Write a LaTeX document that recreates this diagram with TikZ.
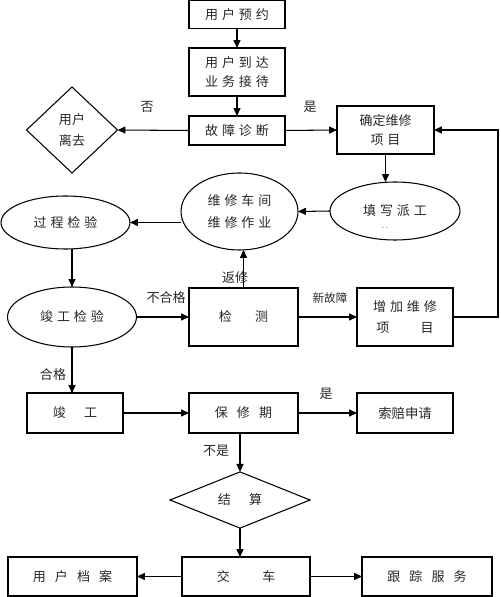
\documentclass[tikz,border=0pt]{standalone}
\usepackage{fontspec}
\newfontfamily\cjk{Noto Sans CJK SC}
\newfontfamily\cjks[LetterSpace=30]{Noto Sans CJK SC}
\newfontfamily\cjkw[LetterSpace=70]{Noto Sans CJK SC}
\usetikzlibrary{shapes.geometric,arrows.meta}

\tikzset{
  base/.style={draw, inner sep=0pt, outer sep=0pt, align=center, text=black!85,
    font=\cjks\fontsize{7.4}{11}\selectfont},
  box/.style={base, rectangle},
  oval/.style={base, ellipse},
  choice/.style={base, diamond},
  flow/.style={-{Triangle[length=4.5pt,width=4pt]}},
  lbl/.style={inner sep=0pt, text=black!85, font=\cjk\fontsize{7.4}{9}\selectfont},
}

\begin{document}
\begin{tikzpicture}[x=0.02cm, y=-0.02cm, line width=0.6pt]
	\useasboundingbox (0,0) rectangle (500,597);
	% upper part
	\node[box, minimum width=1.92cm, minimum height=0.56cm] (yuyue) at (237,14.5) {用户预约};
	\node[box, minimum width=1.92cm, minimum height=0.96cm] (jiedai) at (237,72) {用户到达\\业务接待};
	\node[box, minimum width=1.92cm, minimum height=0.58cm] (zhenduan) at (237,130.5) {故障诊断};
	\node[choice, minimum width=1.82cm, minimum height=1.72cm, font=\cjk\fontsize{7.4}{12}\selectfont] (liqu) at (72,130) {用户\\离去};
	\node[box, minimum width=1.94cm, minimum height=0.96cm, font=\cjk\fontsize{7.4}{10.5}\selectfont] (queding) at (385.5,130) {确定维修\\项\hspace{0.3em}目};
	% repair loop
	\node[oval, minimum width=2.6cm, minimum height=1.16cm] (paigong) at (395,211) {填写派工};
	\node[inner sep=0pt, text=black!70, font=\tiny] (dots) at (385,228) {..};
	\node[oval, minimum width=2.34cm, minimum height=1.54cm, font=\cjks\fontsize{7.4}{12}\selectfont] (zuoye) at (239.5,211.5) {维修车间\\维修作业};
	\node[oval, minimum width=2.58cm, minimum height=1.06cm] (guocheng) at (65.5,222.5) {过程检验};
	\node[oval, minimum width=2.58cm, minimum height=1.2cm] (jungongjy) at (72,317) {竣工检验};
	\node[box, minimum width=2.18cm, minimum height=1.16cm, font=\cjk\fontsize{7.4}{11}\selectfont] (jiance) at (243.5,317) {检\hspace{1.8em}测};
	\node[box, minimum width=1.92cm, minimum height=1.16cm, font=\cjks\fontsize{7.4}{11.5}\selectfont] (zengjia) at (405,317) {增加维修\\项\hspace{2.4em}目};
	% lower part
	\node[box, minimum width=1.92cm, minimum height=0.8cm, font=\cjk\fontsize{7.4}{11}\selectfont] (jungong) at (75,413) {竣\hspace{1.4em}工};
	\node[box, minimum width=2.18cm, minimum height=0.8cm, font=\cjkw\fontsize{7.4}{11}\selectfont] (baoxiu) at (243.5,413) {保修期};
	\node[box, minimum width=1.92cm, minimum height=0.8cm, font=\cjk\fontsize{7.6}{11}\selectfont] (suopei) at (405,413) {索赔申请};
	\node[choice, minimum width=2.8cm, minimum height=1.12cm, font=\cjk\fontsize{7.4}{11}\selectfont] (jiesuan) at (240,500) {结\hspace{1.4em}算};
	\node[box, minimum width=2.56cm, minimum height=0.78cm, font=\cjk\fontsize{7.4}{11}\selectfont] (jiaoche) at (246,576.5) {交\hspace{2.5em}车};
	\node[box, minimum width=2.58cm, minimum height=0.78cm, font=\cjkw\fontsize{7.4}{11}\selectfont] (dangan) at (72.5,576.5) {用户档案};
	\node[box, minimum width=2.6cm, minimum height=0.78cm, font=\cjkw\fontsize{7.4}{11}\selectfont] (genzong) at (427,576.5) {跟踪服务};
	% labels
	\node[lbl] (fou) at (147,107) {否};
	\node[lbl] (shi1) at (310,107) {是};
	\node[lbl] (buhege) at (166,298) {不合格};
	\node[lbl] (fanxiu) at (235,278) {返修};
	\node[lbl, font=\cjk\fontsize{6.6}{8}\selectfont] (xingz) at (330,298) {新故障};
	\node[lbl] (hege) at (53,375) {合格};
	\node[lbl] (shi2) at (326,394) {是};
	\node[lbl] (bushi) at (216,451) {不是};
	\coordinate (back) at (498,220);
	% connectors
	\draw[flow] (yuyue) -- (jiedai);
	\draw[flow] (jiedai) -- (zhenduan);
	\draw[flow] (zhenduan.west) -- (liqu.east);
	\draw[flow] (zhenduan.east) -- (queding.west);
	\draw[flow] (queding.south) -- (queding.south |- paigong.north);
	\draw[flow] (paigong.west) -- (zuoye.east);
	\draw[flow] (zuoye.west |- guocheng.east) -- (guocheng.east);
	\draw[flow] (guocheng.south -| jungongjy.north) -- (jungongjy.north);
	\draw[flow] (jungongjy.east) -- (jiance.west);
	\draw[flow] (jiance.north) -- (jiance.north |- zuoye.south);
	\draw[flow] (jiance.east) -- (zengjia.west);
	\draw[flow] (zengjia.east) -| (back) |- (queding.east);
	\draw[flow] (jungongjy.south) -- (jungongjy.south |- jungong.north);
	\draw[flow] (jungong.east) -- (baoxiu.west);
	\draw[flow] (baoxiu.east) -- (suopei.west);
	\draw[flow] (baoxiu.south -| jiesuan.north) -- (jiesuan.north);
	\draw[flow] (jiesuan.south) -- (jiesuan.south |- jiaoche.north);
	\draw[flow] (jiaoche.west) -- (dangan.east);
	\draw[flow] (jiaoche.east) -- (genzong.west);
\end{tikzpicture}
\end{document}
